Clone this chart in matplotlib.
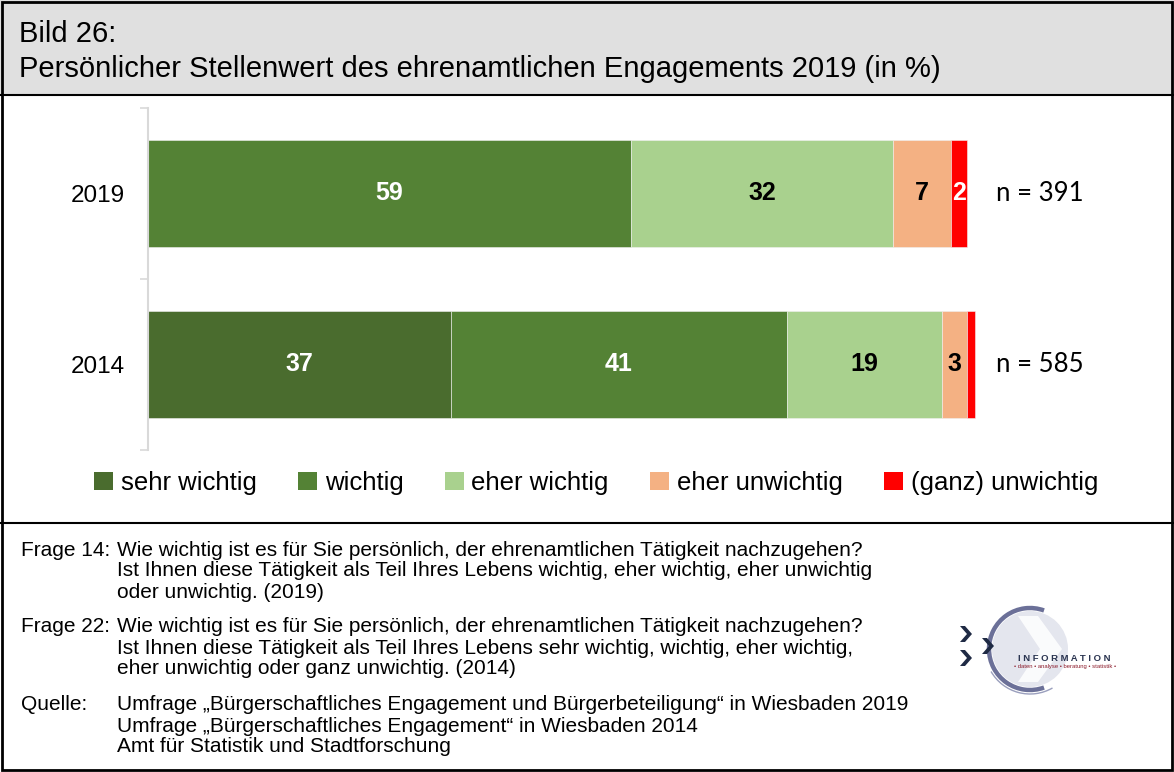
import matplotlib.pyplot as plt
from matplotlib.patches import Rectangle, Patch, Circle, Arc, Polygon
import numpy as np

plt.rcParams['font.family'] = ['Liberation Sans', 'DejaVu Sans']

# data
years = ['2019', '2014']
sehr_wichtig = [0, 37]
wichtig = [59, 41]
eher_wichtig = [32, 19]
eher_unwichtig = [7, 3]
ganz_unwichtig = [2, 1]
n_values = [391, 585]

labels = ['sehr wichtig', 'wichtig', 'eher wichtig', 'eher unwichtig', '(ganz) unwichtig']
colors = ['#4a6c2e', '#548235', '#a9d18e', '#f4b183', '#ff0000']
text_colors = ['white', 'white', 'black', 'black', 'white']
series = [sehr_wichtig, wichtig, eher_wichtig, eher_unwichtig, ganz_unwichtig]

W, H = 1174, 772
fig = plt.figure(figsize=(W / 100, H / 100), dpi=100)

def fx(x):
    return x / W

def fy(y):
    return 1 - y / H

# header band and frame
fig.patches.append(Rectangle((0, fy(95)), 1, 1 - fy(95), transform=fig.transFigure,
                             facecolor='#e0e0e0', edgecolor='none', zorder=0))
fig.add_artist(plt.Line2D([0, 1], [fy(95), fy(95)], color='black', lw=1.5))
fig.add_artist(plt.Line2D([0, 1], [fy(523), fy(523)], color='black', lw=1.5))
fig.patches.append(Rectangle((fx(2), fy(770)), fx(1170), fy(2) - fy(770), transform=fig.transFigure,
                             facecolor='none', edgecolor='black', lw=2, zorder=5))

fig.text(fx(19), fy(34), 'Bild 26:', fontsize=21, va='center', ha='left')
fig.text(fx(19), fy(69), 'Persönlicher Stellenwert des ehrenamtlichen Engagements 2019 (in %)',
         fontsize=21, va='center', ha='left')

# chart
ax = fig.add_axes([fx(148), fy(450), 982.8 / W, fy(108) - fy(450)])
y = np.arange(len(years))[::-1]
left = np.zeros(len(years))
for vals, c, tc, lab in zip(series, colors, text_colors, labels):
    vals = np.array(vals, dtype=float)
    ax.barh(y, vals, left=left, height=0.62, color=c, edgecolor='#f0f0f0', linewidth=0.4, label=lab)
    for yi, v, l in zip(y, vals, left):
        if v > 1:
            ax.text(l + v / 2, yi, f'{v:.0f}', ha='center', va='center',
                    color=tc, fontsize=18, fontweight='bold')
    left += vals

for yi, n in zip(y, n_values):
    ax.text(103.5, yi, f'n = {n}', ha='left', va='center', fontsize=18.5,
            family=['Lato', 'DejaVu Sans'])

ax.set_xlim(0, 120)
ax.set_ylim(-0.5, 1.5)
ax.set_yticks(y)
ax.set_yticklabels(years, fontsize=17.5)
ax.set_yticks([-0.5, 0.5, 1.5], minor=True)
ax.tick_params(axis='y', which='major', length=0, pad=17)
ax.tick_params(axis='y', which='minor', length=6, color='#d9d9d9', width=1.2)
ax.set_xticks([])
for s in ['top', 'right', 'bottom']:
    ax.spines[s].set_visible(False)
ax.spines['left'].set_color('#d9d9d9')
ax.spines['left'].set_linewidth(1.5)
ax.patch.set_alpha(0)

handles = [Patch(facecolor=c, edgecolor='none', label=l) for c, l in zip(colors, labels)]
fig.legend(handles=handles, loc='center', bbox_to_anchor=(fx(596), fy(483)), ncol=5,
           frameon=False, fontsize=18.5, handlelength=0.75, handleheight=0.75,
           handletextpad=0.3, columnspacing=1.6)

# footnotes
fs = 15
fig.text(fx(21), fy(550), 'Frage 14:', fontsize=fs, va='center')
fig.text(fx(117), fy(550), 'Wie wichtig ist es für Sie persönlich, der ehrenamtlichen Tätigkeit nachzugehen?',
         fontsize=fs, va='center')
fig.text(fx(117), fy(571), 'Ist Ihnen diese Tätigkeit als Teil Ihres Lebens wichtig, eher wichtig, eher unwichtig',
         fontsize=fs, va='center')
fig.text(fx(117), fy(592), 'oder unwichtig. (2019)', fontsize=fs, va='center')

fig.text(fx(21), fy(627), 'Frage 22:', fontsize=fs, va='center')
fig.text(fx(117), fy(627), 'Wie wichtig ist es für Sie persönlich, der ehrenamtlichen Tätigkeit nachzugehen?',
         fontsize=fs, va='center')
fig.text(fx(117), fy(648), 'Ist Ihnen diese Tätigkeit als Teil Ihres Lebens sehr wichtig, wichtig, eher wichtig,',
         fontsize=fs, va='center')
fig.text(fx(117), fy(669), 'eher unwichtig oder ganz unwichtig. (2014)', fontsize=fs, va='center')

fig.text(fx(21), fy(705), 'Quelle:', fontsize=fs, va='center')
fig.text(fx(117), fy(705), 'Umfrage „Bürgerschaftliches Engagement und Bürgerbeteiligung“ in Wiesbaden 2019',
         fontsize=fs, va='center')
fig.text(fx(117), fy(726), 'Umfrage „Bürgerschaftliches Engagement“ in Wiesbaden 2014', fontsize=fs, va='center')
fig.text(fx(117), fy(747), 'Amt für Statistik und Stadtforschung', fontsize=fs, va='center')

# logo, drawn in pixel coordinates
lx0, lx1, ly0, ly1 = 940, 1140, 598, 705
lax = fig.add_axes([fx(lx0), fy(ly1), fx(lx1 - lx0), fy(ly0) - fy(ly1)])
lax.set_xlim(lx0, lx1)
lax.set_ylim(ly1, ly0)
lax.axis('off')
cx, cy = 1030, 649
lax.add_patch(Circle((cx, cy), 38, facecolor='#e4e6ee', edgecolor='none'))
lax.add_patch(Polygon([[1018, 616], [1038, 616], [1062, 649], [1038, 682], [1018, 682], [1040, 649]],
                      facecolor='white', edgecolor='none', alpha=0.85))
lax.add_patch(Arc((cx, cy), 82, 82, theta1=70, theta2=290, color='#6b7098', lw=3.2))
lax.add_patch(Arc((cx, cy), 90, 90, theta1=60, theta2=150, color='#9a9fbd', lw=1))
for (px, py) in [(960, 634), (982, 646), (960, 658)]:
    lax.add_patch(Polygon([[px, py - 8], [px + 5, py - 8], [px + 12, py], [px + 5, py + 8],
                           [px, py + 8], [px + 7, py]], facecolor='#1f2a44', edgecolor='none'))
lax.text(1064, 659, 'I N F O R M A T I O N', fontsize=6.8, ha='center', va='center',
         color='#2a3450', fontweight='bold')
lax.text(1065, 667, '• daten • analyse • beratung • statistik •', fontsize=4.2, ha='center',
         va='center', color='#8b1a2a')

fig.savefig('out.png', dpi=100)
